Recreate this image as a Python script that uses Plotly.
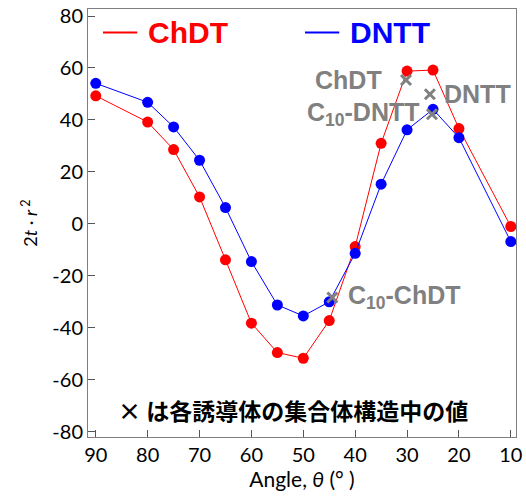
import plotly.graph_objects as go

angles = [90, 80, 75, 70, 65, 60, 55, 50, 45, 40, 35, 30, 25, 20, 10]
chdt = [49.3, 39.2, 28.6, 10.4, -13.8, -38.2, -49.5, -51.7, -37.2, -8.7, 31.0, 58.8, 59.2, 36.7, -1.0]
dntt = [54.1, 46.8, 37.3, 24.5, 6.3, -14.5, -31.2, -35.4, -30.0, -11.3, 15.3, 36.2, 44.1, 33.2, -6.8]

agg_names = ["ChDT", "DNTT", "C<sub>10</sub>-DNTT", "C<sub>10</sub>-ChDT"]
agg_angle = [30.2, 25.6, 25.2, 44.4]
agg_value = [55.4, 49.9, 42.2, -28.3]
agg_anchor = ["right", "left", "right", "left"]
agg_shift = [-22, 12, -10, 14]

x_ticks = [90, 80, 70, 60, 50, 40, 30, 20, 10]
x_ticktext = ["90", "80", "70", "60", "50", "40", "30", "20", "10"]
y_ticks = [-80, -60, -40, -20, 0, 20, 40, 60, 80]
y_ticktext = ["-80", "-60", "-40", "-20", "0", "20", "40", "60", "80"]

fig = go.Figure()
fig.add_trace(go.Scatter(x=angles, y=chdt, mode="lines+markers", name="ChDT",
                         line=dict(color="#ff0000", width=1),
                         marker=dict(color="#ff0000", size=11)))
fig.add_trace(go.Scatter(x=angles, y=dntt, mode="lines+markers", name="DNTT",
                         line=dict(color="#0000ff", width=1),
                         marker=dict(color="#0000ff", size=11)))
fig.add_trace(go.Scatter(x=agg_angle, y=agg_value, mode="markers", name="aggregate",
                         marker=dict(symbol="x-thin", size=10, color="#808080",
                                     line=dict(width=3, color="#808080"))))

gray_font = dict(family="Liberation Sans, Arial", size=25, color="#808080")
for name, ax, ay, anc, sh in zip(agg_names, agg_angle, agg_value, agg_anchor, agg_shift):
    fig.add_annotation(x=ax, y=ay, text="<b>" + name + "</b>", showarrow=False,
                       xanchor=anc, yanchor="middle", xshift=sh,
                       font=gray_font)

# legend drawn as lines + text
legend_items = [("ChDT", "#ff0000", 0.035), ("DNTT", "#0000ff", 0.507)]
for label, col, x0 in legend_items:
    fig.add_shape(type="line", xref="paper", yref="paper",
                  x0=x0, x1=x0 + 0.08, y0=0.945, y1=0.945,
                  line=dict(color=col, width=2))
    fig.add_annotation(xref="paper", yref="paper", x=x0 + 0.1, y=0.945,
                       text="<b>" + label + "</b>", showarrow=False,
                       xanchor="left", yanchor="middle",
                       font=dict(family="Liberation Sans, Arial", size=30, color=col))

fig.add_annotation(xref="paper", yref="paper", x=0.066, y=0.063,
                   text="<b>× は各誘導体の集合体構造中の値</b>", showarrow=False,
                   xanchor="left", yanchor="middle",
                   font=dict(family="Noto Sans CJK JP", size=23, color="#000000"))

# y-axis title as rotated annotation
fig.add_annotation(xref="paper", yref="paper", x=-0.136, y=0.5,
                   text="2<i>t</i> · <i>r</i><sup> 2</sup>", showarrow=False,
                   textangle=-90, xanchor="center", yanchor="middle",
                   font=dict(family="Lato", size=18, color="#000000"))

axis_common = dict(showline=True, linecolor="#7f7f7f", linewidth=1, mirror=True,
                   ticks="inside", ticklen=7, tickcolor="#555555",
                   showgrid=False, zeroline=False, automargin=False,
                   tickfont=dict(family="Lato", size=20, color="#000000"))

fig.update_xaxes(range=[91.5, 9], tickvals=x_ticks, ticktext=x_ticktext,
                 title=dict(text="Angle, <i>θ</i> (° )",
                            font=dict(family="Lato", size=21, color="#000000"),
                            standoff=2),
                 **axis_common)
fig.update_yaxes(range=[-82, 82.7], tickvals=y_ticks, ticktext=y_ticktext,
                 **axis_common)

fig.update_layout(width=526, height=497, showlegend=False,
                  margin=dict(l=88, r=10, t=9, b=60),
                  plot_bgcolor="white", paper_bgcolor="white")

fig.write_html("out.html", config={"displayModeBar": False},
               post_script="document.body.style.margin='0px';document.body.style.overflow='hidden';")
